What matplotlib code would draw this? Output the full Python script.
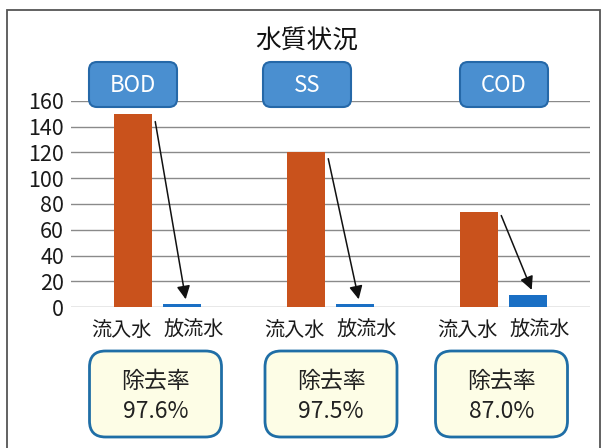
import matplotlib
matplotlib.use("Agg")
import matplotlib.pyplot as plt
from matplotlib.patches import FancyBboxPatch, Rectangle
import numpy as np

plt.rcParams['font.family'] = ['Noto Sans CJK JP', 'DejaVu Sans']

# data
params = ['BOD', 'SS', 'COD']
inflow = [150, 120, 74]
outflow = [2.0, 2.0, 9.3]
rates = ['97.6%', '97.5%', '87.0%']
xlabels = ['流入水', '放流水']
title = '水質状況'

W, H = 607, 448
fig = plt.figure(figsize=(W / 100, H / 100), dpi=100)


def px_box(x0, y0, w, h, **kw):
    # pixel coords from the top-left, drawn in inches
    p = FancyBboxPatch((x0 / 100, (H - y0 - h) / 100), w / 100, h / 100,
                       transform=fig.dpi_scale_trans, **kw)
    fig.add_artist(p)
    return p


# outer frame
fig.add_artist(Rectangle((7 / 100, -0.5), (600 - 7) / 100, (H - 10) / 100 + 0.5,
                         transform=fig.dpi_scale_trans, fill=False,
                         edgecolor='#555555', lw=1.3))

ax = fig.add_axes([71 / W, (H - 307) / H, (590 - 71) / W, (307 - 101) / H])
x = np.arange(len(params))
bw = 0.22
off = 0.143
ax.bar(x - off, inflow, bw, color='#c9521c', zorder=3)
ax.bar(x + off, outflow, bw, color='#1a6fc4', zorder=3)

ax.set_xlim(-0.5, 2.5)
ax.set_ylim(0, 160)
ax.set_yticks(np.arange(0, 161, 20))
ax.tick_params(axis='y', length=0, pad=5, labelsize=15.5, colors='#1a1a1a')
ticks = []
labs = []
for i in x:
    ticks += [i - 0.21, i + 0.21]
    labs += xlabels
ax.set_xticks(ticks)
ax.set_xticklabels(labs)
ax.tick_params(axis='x', length=0, pad=9, labelsize=14.5, colors='#1a1a1a')
ax.yaxis.grid(True, color='#8a8a8a', lw=1)
ax.set_axisbelow(True)
for s in ax.spines.values():
    s.set_visible(False)

# arrows from inflow bar to outflow bar
for i in x:
    ax.annotate('', xy=(i + off + 0.02, outflow[i] + 4),
                xytext=(i - off + bw / 2 + 0.02, inflow[i] * 0.96),
                arrowprops=dict(arrowstyle='-|>', color='#111111', lw=1.1,
                                mutation_scale=20, shrinkA=0, shrinkB=0),
                zorder=4)

fig.text(307 / W, 1 - 41 / H, title, ha='center', va='center', fontsize=18.5,
         color='#111111')

# header boxes
head_cx = [133, 307, 504]
for cx, name in zip(head_cx, params):
    px_box(cx - 44, 62, 88, 45, boxstyle='round,pad=0,rounding_size=0.08',
           facecolor='#4a8fd0', edgecolor='#2568a8', lw=1.5, zorder=5)
    fig.text(cx / W, 1 - 85 / H, name, ha='center', va='center', fontsize=16,
             color='white', zorder=6)

# removal rate boxes
rate_cx = [155.5, 331, 501.5]
for cx, r in zip(rate_cx, rates):
    px_box(cx - 66, 351, 132, 86, boxstyle='round,pad=0,rounding_size=0.16',
           facecolor='#fdfde6', edgecolor='#1f6ea6', lw=2, zorder=5)
    fig.text(cx / W, 1 - 381 / H, '除去率', ha='center', va='center',
             fontsize=16.5, color='#222222', zorder=6)
    fig.text(cx / W, 1 - 411 / H, r, ha='center', va='center',
             fontsize=16.5, color='#222222', zorder=6)

fig.savefig('out.png', dpi=100)
